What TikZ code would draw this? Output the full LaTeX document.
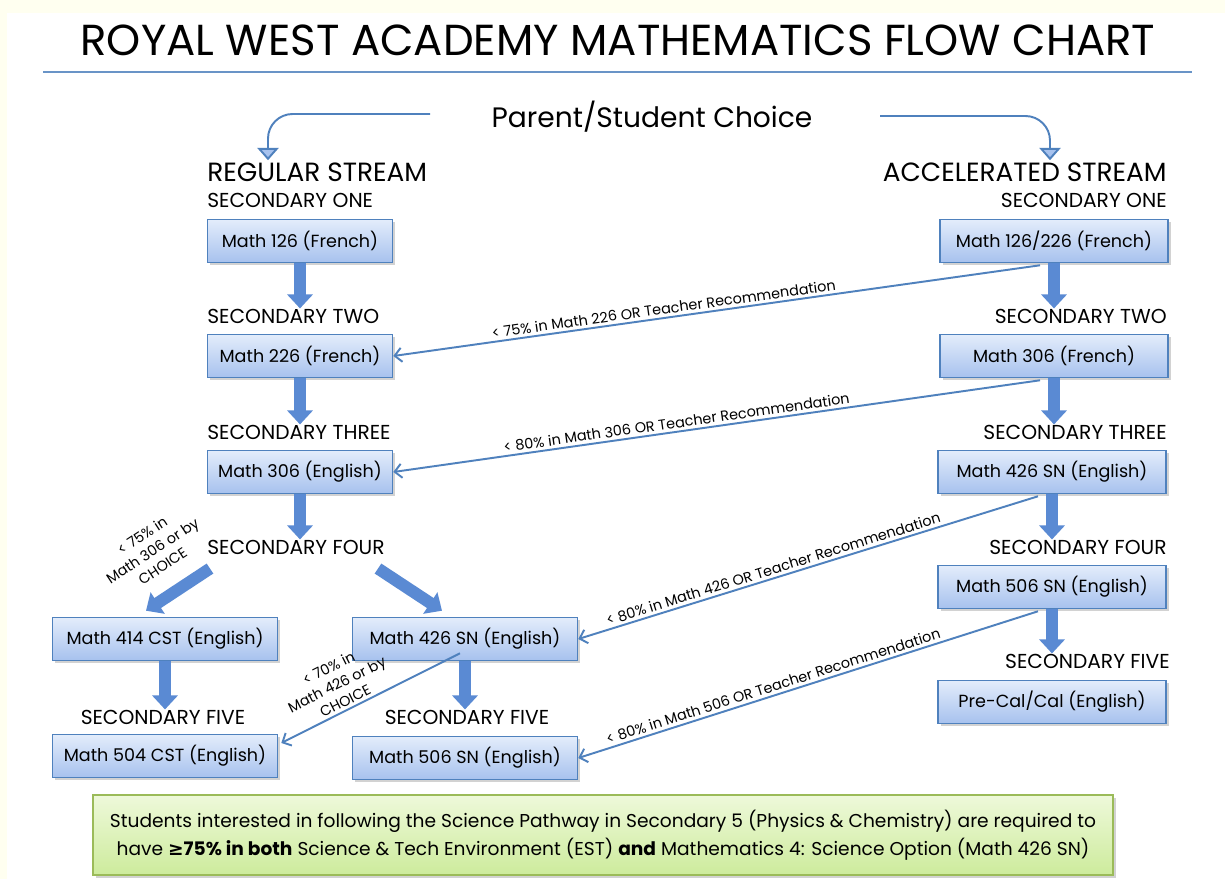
\documentclass[tikz,border=0pt]{standalone}
\usepackage{fontspec}
\setmainfont{Poppins}
\newfontfamily\symfont{DejaVu Sans}
\usetikzlibrary{arrows.meta, positioning, calc, shadows}
\definecolor{rwblue}{HTML}{4F81BD}
\definecolor{rwlight}{HTML}{E3ECFB}
\definecolor{rwmid}{HTML}{A7C2EE}
\definecolor{rwarrow}{HTML}{5A8AD3}
\definecolor{rwgreen}{HTML}{9BBB59}
\definecolor{rwgreenlight}{HTML}{EEF9DA}
\definecolor{rwgreenmid}{HTML}{CDEB9C}
\definecolor{rwcream}{HTML}{FFFFF0}
\tikzset{%
	course/.style={
		draw=rwblue,
		line width=0.9pt,
		top color=rwlight,
		bottom color=rwmid,
		inner sep=0pt,
		minimum height=0.86cm,
		font=\fontsize{10}{12}\selectfont,
		drop shadow={opacity=0.35, shadow xshift=1.5pt, shadow yshift=-1.5pt}
	},
	level/.style={
		inner sep=0pt,
		font=\fontsize{11.5}{13}\selectfont
	},
	stream/.style={
		inner sep=0pt,
		font=\fontsize{15}{18}\selectfont
	},
	blockarrow/.style={
		draw=rwarrow,
		line width=0.24cm,
		-{Triangle[width=0.5cm,length=0.28cm]}
	},
	thinarrow/.style={
		draw=rwblue,
		line width=1.1pt,
		-{Straight Barb[length=4pt,width=8pt]}
	},
	choicearrow/.style={
		draw=rwblue,
		line width=1.1pt,
		rounded corners=14pt,
		-{Triangle[width=12pt,length=7pt,fill=rwmid]}
	},
	cond/.style={
		font=\fontsize{8.2}{10.5}\selectfont,
		inner sep=1.5pt
	},
}
\begin{document}
\begin{tikzpicture}[x=0.02cm, y=-0.02cm]
	% Page
	\useasboundingbox (0,0) rectangle (1225,879);
	\fill[rwcream] (0,0) rectangle (1225,879);
	\fill[white] (7,13) rectangle (1225,879);
	
	% Heading
	\node[font=\fontsize{24.7}{28}\selectfont] (title) at (618,40) {ROYAL WEST ACADEMY MATHEMATICS FLOW CHART};
	\draw[rwblue!85, line width=1.1pt] (43,72) -- (1192,72);
	
	\node[font=\fontsize{16}{19}\selectfont] (choice) at (652,117) {Parent/Student Choice};
	\coordinate (choiceL) at (430,114);
	\coordinate (choiceR) at (880,116);
	
	% Stream titles
	\node[stream, anchor=west] (regular) at (207,172) {REGULAR STREAM};
	\node[stream, anchor=east] (accel) at (1167,172) {ACCELERATED STREAM};
	
	\draw[choicearrow] (choiceL) -| ($(regular.north west)+(61,-2)$);
	\draw[choicearrow] (choiceR) -| ($(accel.north east)+(-117,-2)$);
	
	% Regular stream, secondary 1 to 3
	\node[level, anchor=west] (rlvl1) at (207,200) {SECONDARY ONE};
	\node[course, minimum width=3.7cm] (reg1) at (300,241) {Math 126 (French)};
	\node[level, anchor=west] (rlvl2) at (207,316) {SECONDARY TWO};
	\node[course, minimum width=3.7cm] (reg2) at (300,356) {Math 226 (French)};
	\node[level, anchor=west] (rlvl3) at (207,432) {SECONDARY THREE};
	\node[course, minimum width=3.7cm] (reg3) at (300,472) {Math 306 (English)};
	\node[level, anchor=west] (rlvl4) at (207,547) {SECONDARY FOUR};
	
	% Regular stream, secondary 4 and 5
	\node[course, minimum width=4.5cm] (cst4) at (165,639) {Math 414 CST (English)};
	\node[course, minimum width=4.5cm] (sn4) at (465,639) {Math 426 SN (English)};
	\node[level] (rlvl5a) at (163,717) {SECONDARY FIVE};
	\node[level] (rlvl5b) at (467,717) {SECONDARY FIVE};
	\node[course, minimum width=4.5cm] (cst5) at (165,756) {Math 504 CST (English)};
	\node[course, minimum width=4.5cm] (sn5) at (465,758) {Math 506 SN (English)};
	
	% Accelerated stream
	\node[level, anchor=east] (alvl1) at (1167,200) {SECONDARY ONE};
	\node[course, minimum width=4.56cm] (acc1) at (1054,241) {Math 126/226 (French)};
	\node[level, anchor=east] (alvl2) at (1167,316) {SECONDARY TWO};
	\node[course, minimum width=4.56cm] (acc2) at (1054,356) {Math 306 (French)};
	\node[level, anchor=east] (alvl3) at (1167,432) {SECONDARY THREE};
	\node[course, minimum width=4.56cm] (acc3) at (1052,472) {Math 426 SN (English)};
	\node[level, anchor=east] (alvl4) at (1167,547) {SECONDARY FOUR};
	\node[course, minimum width=4.56cm] (acc4) at (1052,587) {Math 506 SN (English)};
	\node[level, anchor=east] (alvl5) at (1170,661) {SECONDARY FIVE};
	\node[course, minimum width=4.56cm] (acc5) at (1052,702) {Pre-Cal/Cal (English)};
	
	% Year to year
	\draw[blockarrow] (reg1.south) -- (reg1.south |- rlvl2.north);
	\draw[blockarrow] (reg2.south) -- (reg2.south |- rlvl3.north);
	\draw[blockarrow] (reg3.south) -- (reg3.south |- rlvl4.north);
	\draw[blockarrow] ($(rlvl4.south west)+(3,14)$) -- ($(cst4.north)+(-19,-6)$)
		node[cond, midway, sloped, above=8pt, align=center] {< 75\% in\\Math 306 or by\\CHOICE};
	\draw[blockarrow] ($(rlvl4.south west)+(171,14)$) -- ($(sn4.north)+(-23,-6)$);
	\draw[blockarrow] (cst4.south) -- (cst4.south |- rlvl5a.north);
	\draw[blockarrow] (sn4.south) -- (sn4.south |- rlvl5b.north);
	
	\draw[blockarrow] (acc1.south) -- (acc1.south |- alvl2.north);
	\draw[blockarrow] (acc2.south) -- (acc2.south |- alvl3.north);
	\draw[blockarrow] (acc3.south) -- (acc3.south |- alvl4.north);
	\draw[blockarrow] (acc4.south) -- (acc4.south |- alvl5.north);
	
	% Moving down to the regular stream
	\draw[thinarrow] ($(acc1.south)+(-14,2)$) -- (reg2.east)
		node[cond, pos=0.58, sloped, above] {< 75\% in Math 226 OR Teacher Recommendation};
	\draw[thinarrow] ($(acc2.south)+(-14,2)$) -- (reg3.east)
		node[cond, pos=0.56, sloped, above] {< 80\% in Math 306 OR Teacher Recommendation};
	\draw[thinarrow] ($(acc3.south)+(-14,2)$) -- (sn4.east)
		node[cond, pos=0.57, sloped, above] {< 80\% in Math 426 OR Teacher Recommendation};
	\draw[thinarrow] ($(acc4.south)+(-14,2)$) -- (sn5.east)
		node[cond, pos=0.57, sloped, above] {< 80\% in Math 506 OR Teacher Recommendation};
	\draw[thinarrow] ($(sn4.south)+(-5,-8)$) -- ($(cst5.east)+(3,-13)$)
		node[cond, pos=0.62, sloped, above, align=center] {< 70\% in\\Math 426 or by\\CHOICE};
	
	% Science pathway note
	\node[draw=rwgreen, line width=1pt, top color=rwgreenlight, bottom color=rwgreenmid,
		minimum width=20.4cm, minimum height=1.6cm, align=center,
		font=\fontsize{10.6}{16}\selectfont,
		drop shadow={opacity=0.35, shadow xshift=1.5pt, shadow yshift=-1.5pt}] (note) at (603,835)
		{Students interested in following the Science Pathway in Secondary 5 (Physics \& Chemistry) are required to\\
		have \textbf{{\symfont ≥}75\% in both} Science \& Tech Environment (EST) \textbf{and} Mathematics 4: Science Option (Math 426 SN)};
\end{tikzpicture}
\end{document}
